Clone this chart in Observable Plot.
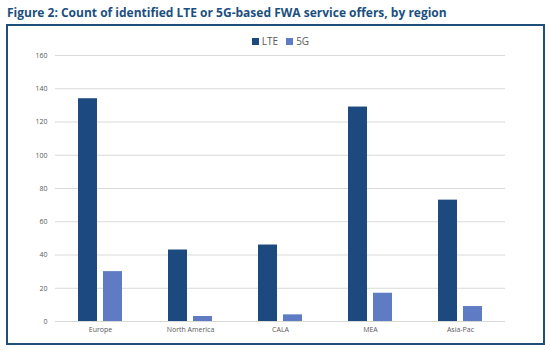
<!DOCTYPE html>
<html>
<head>
<meta charset="utf-8">
<script src="https://cdn.jsdelivr.net/npm/d3@7"></script>
<script src="https://cdn.jsdelivr.net/npm/@observablehq/plot@0.6"></script>
<style>
  html, body { margin: 0; padding: 0; background: #fff; width: 550px; height: 350px; overflow: hidden; }
  #title { position: absolute; left: 7px; top: 4px; font-family: "Open Sans", sans-serif; font-weight: 700; font-size: 12px; color: #1b4f80; white-space: nowrap; }
  #box { position: absolute; left: 6px; top: 24px; width: 535px; height: 317px; border: 2px solid #1f4e79; background: #fff; }
  #legend { position: absolute; left: 0; right: 0; top: 8px; text-align: center; font-family: "Open Sans", sans-serif; font-size: 10px; color: #595959; padding-left: 10px; }
  #legend span.sw { display: inline-block; width: 7px; height: 7px; margin-right: 3px; vertical-align: 0px; }
  #legend span.item { margin: 0 4px; }
  #chart { position: absolute; left: 0; top: 0; }
</style>
</head>
<body>
<div id="title">Figure 2: Count of identified LTE or 5G-based FWA service offers, by region</div>
<div id="box">
  <div id="chart"></div>
  <div id="legend"></div>
</div>
<script>
const regions = ["Europe", "North America", "CALA", "MEA", "Asia-Pac"];
const series = ["LTE", "5G"];
const lteValues = [134, 43, 46, 129, 73];
const fiveGValues = [30, 3, 4, 17, 9];
const yTicks = [0, 20, 40, 60, 80, 100, 120, 140, 160];
const colors = ["#1c4a7e", "#5f7bc4"];

const data = [];
regions.forEach((r, i) => {
  data.push({region: r, series: "LTE", value: lteValues[i]});
  data.push({region: r, series: "5G", value: fiveGValues[i]});
});

const plot = Plot.plot({
  width: 535,
  height: 317,
  marginTop: 29,
  marginBottom: 22,
  marginLeft: 45,
  marginRight: 36,
  style: { fontFamily: "Open Sans, sans-serif", fontSize: "7px", color: "#595959", background: "transparent" },
  fx: { domain: regions, padding: 0, label: null, axis: null },
  x: { domain: series, paddingInner: 0.23, paddingOuter: 0.85, axis: null },
  y: { domain: [0, 160], ticks: yTicks, label: null, tickSize: 0, tickPadding: 8 },
  color: { domain: series, range: colors },
  marks: [
    Plot.ruleY(yTicks, { stroke: "#d9d9d9", strokeWidth: 1 }),
    Plot.barY(data, { fx: "region", x: "series", y: "value", fill: "series" }),
    Plot.axisY({ ticks: yTicks, tickSize: 0, tickPadding: 8, fill: "#595959" }),
    Plot.axisFx({ anchor: "bottom", tickSize: 0, tickPadding: 6, fill: "#595959", label: null })
  ]
});
document.getElementById("chart").appendChild(plot);

const legend = document.getElementById("legend");
series.forEach((s, i) => {
  const item = document.createElement("span");
  item.className = "item";
  const sw = document.createElement("span");
  sw.className = "sw";
  sw.style.background = colors[i];
  item.appendChild(sw);
  item.appendChild(document.createTextNode(s));
  legend.appendChild(item);
});
</script>
</body>
</html>
